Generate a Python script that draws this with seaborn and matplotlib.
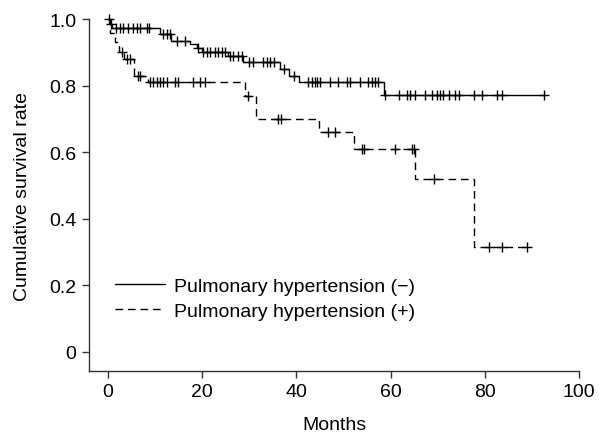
import numpy as np
import pandas as pd
import matplotlib
matplotlib.use("Agg")
import matplotlib.pyplot as plt
import seaborn as sns

# Kaplan-Meier step points (time of event, survival after the event)
times_neg = [0, 0.6, 1.0, 11.0, 13.5, 17.5, 19.0, 20.0, 25.5, 28.8, 36.5, 38.5, 40.5, 58.7]
surv_neg = [1.0, 0.985, 0.973, 0.955, 0.935, 0.925, 0.913, 0.90, 0.89, 0.87, 0.85, 0.83, 0.81, 0.772]
end_neg = 92.5
censor_neg = [0.3, 0.8, 1.8, 2.6, 3.3, 4.4, 5.4, 6.2, 6.9, 8.3, 8.8, 11.8, 12.6, 13.2,
              14.6, 16.4, 19.2, 20.3, 21.0, 21.7, 22.8, 23.4, 24.2, 24.9, 26.0, 26.6,
              27.7, 28.4, 29.9, 30.9, 33.0, 33.8, 34.5, 35.2, 37.5, 39.5, 42.5, 43.4,
              44.0, 44.4, 45.1, 47.2, 48.9, 50.8, 51.4, 53.6, 55.3, 56.1, 56.7, 57.4,
              58.9, 61.7, 63.5, 64.2, 65.2, 67.4, 68.8, 69.9, 70.5, 71.2, 72.3, 73.7,
              74.4, 77.6, 79.4, 82.6, 83.6, 92.5]

times_pos = [0, 0.5, 1.5, 2.5, 3.5, 5.5, 8.6, 29.2, 31.5, 44.9, 52.3, 65.1, 77.6]
surv_pos = [1.0, 0.96, 0.93, 0.90, 0.88, 0.83, 0.81, 0.77, 0.70, 0.66, 0.61, 0.52, 0.314]
end_pos = 89.0
censor_pos = [3.0, 4.0, 4.7, 6.4, 6.9, 9.0, 9.7, 10.4, 11.1, 11.8, 12.5, 14.3, 15.0,
              18.2, 19.6, 20.7, 29.8, 36.2, 36.7, 46.8, 48.3, 53.9, 54.3, 61.0, 64.5,
              64.9, 69.3, 80.8, 83.6, 89.0]

label_neg = "Pulmonary hypertension (\u2212)"
label_pos = "Pulmonary hypertension (+)"


def step_frame(times, surv, end):
    t = list(times) + [end]
    s = list(surv) + [surv[-1]]
    return pd.DataFrame({"months": t, "survival": s})


def censor_frame(times, surv, censors):
    idx = np.searchsorted(times, censors, side="right") - 1
    return pd.DataFrame({"months": censors, "survival": np.asarray(surv)[idx]})


sns.set_theme(style="ticks")
plt.rcParams["font.family"] = ["Liberation Sans", "DejaVu Sans"]
plt.rcParams["text.color"] = "black"
plt.rcParams["axes.labelcolor"] = "black"

fig = plt.figure(figsize=(6.04, 4.39), dpi=100)
ax = fig.add_axes([0.147, 0.153, 0.812, 0.801])

sns.lineplot(data=step_frame(times_neg, surv_neg, end_neg), x="months", y="survival",
             drawstyle="steps-post", color="black", linewidth=1.0, label=label_neg, ax=ax)
sns.lineplot(data=step_frame(times_pos, surv_pos, end_pos), x="months", y="survival",
             drawstyle="steps-post", color="black", linewidth=1.0, label=label_pos, ax=ax)
ax.lines[1].set_dashes((5.5, 3.5))

sns.scatterplot(data=censor_frame(times_neg, surv_neg, censor_neg), x="months", y="survival",
                marker="+", s=55, color="black", linewidth=1.0, ax=ax, legend=False)
sns.scatterplot(data=censor_frame(times_pos, surv_pos, censor_pos), x="months", y="survival",
                marker="+", s=55, color="black", linewidth=1.0, ax=ax, legend=False)

ax.set_xlim(-4, 100)
ax.set_ylim(-0.057, 1.0)
ax.set_xticks([0, 20, 40, 60, 80, 100])
ax.set_yticks([0, 0.2, 0.4, 0.6, 0.8, 1.0])
ax.set_yticklabels(["0", "0.2", "0.4", "0.6", "0.8", "1.0"])
ax.tick_params(labelsize=14, length=5, width=1, color="#333333", labelcolor="black", pad=4)
for side in ["top", "right"]:
    ax.spines[side].set_visible(False)
for side in ["left", "bottom"]:
    ax.spines[side].set_color("#333333")
    ax.spines[side].set_linewidth(1)
ax.set_xlabel("Months", fontsize=14)
ax.set_ylabel("Cumulative survival rate", fontsize=14)
ax.xaxis.set_label_coords(0.5, -0.128)
ax.yaxis.set_label_coords(-0.117, 0.5)
for ln in ax.lines:
    ln.set_clip_on(False)
for c in ax.collections:
    c.set_clip_on(False)

leg = ax.legend(loc="upper left", bbox_to_anchor=(0.053, 0.267), frameon=False, fontsize=14,
                handlelength=2.57, handletextpad=0.5, labelspacing=0.41, borderpad=0,
                borderaxespad=0)
for h in leg.get_lines():
    h.set_linewidth(1.0)
leg.get_lines()[1].set_dashes((5.5, 3.5))

fig.savefig("out.png", dpi=100)
